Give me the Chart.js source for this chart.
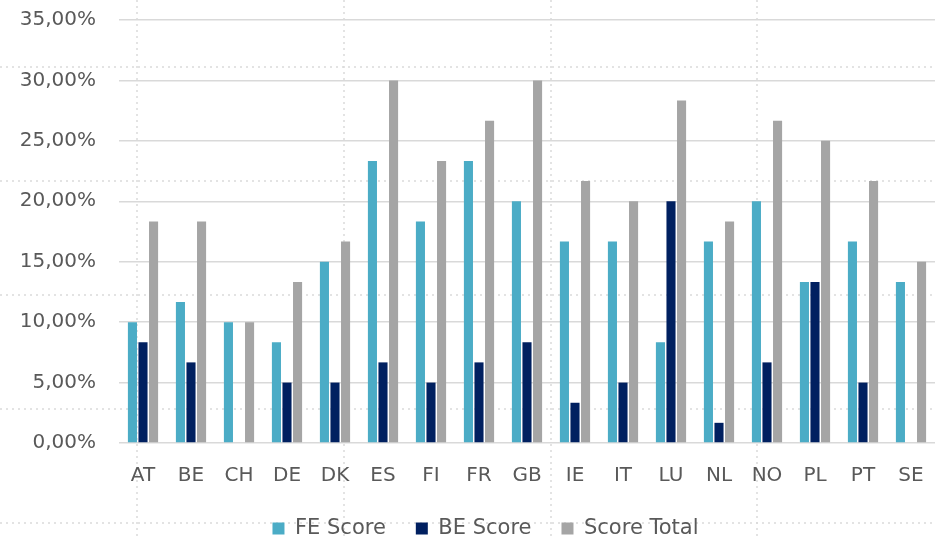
<!DOCTYPE html>
<html>
<head>
<meta charset="utf-8">
<script src="https://cdn.jsdelivr.net/npm/chart.js@4/dist/chart.umd.min.js"></script>
<style>
  html, body { margin: 0; padding: 0; background: #fff; }
  #wrap { width: 935px; height: 539px; position: relative; }
</style>
</head>
<body>
<div id="wrap"><canvas id="chart"></canvas></div>
<script>
const countries = ["AT", "BE", "CH", "DE", "DK", "ES", "FI", "FR", "GB", "IE", "IT", "LU", "NL", "NO", "PL", "PT", "SE"];
const feScore = [10, 11.67, 10, 8.33, 15, 23.33, 18.33, 23.33, 20, 16.67, 16.67, 8.33, 16.67, 20, 13.33, 16.67, 13.33];
const beScore = [8.33, 6.67, 0, 5, 5, 6.67, 5, 6.67, 8.33, 3.33, 5, 20, 1.67, 6.67, 13.33, 5, 0];
const scoreTotal = [18.33, 18.33, 10, 13.33, 16.67, 30, 23.33, 26.67, 30, 21.67, 20, 28.33, 18.33, 26.67, 25, 21.67, 15];
const yTicks = [0, 5, 10, 15, 20, 25, 30, 35];

// dotted slide guides behind the chart
const guides = {
  id: "guides",
  beforeDraw(chart) {
    const ctx = chart.ctx;
    ctx.save();
    ctx.strokeStyle = "#dadada";
    ctx.lineWidth = 1.5;
    ctx.setLineDash([2, 4]);
    [67, 181, 295, 409, 523].forEach(y => {
      ctx.beginPath();
      ctx.moveTo(0, y);
      ctx.lineTo(chart.width, y);
      ctx.stroke();
    });
    [137, 344, 551, 757].forEach(x => {
      ctx.beginPath();
      ctx.moveTo(x, 0);
      ctx.lineTo(x, chart.height);
      ctx.stroke();
    });
    ctx.restore();
  }
};

// the original legend sits a little right of centre
const legendShift = {
  id: "legendShift",
  afterLayout(chart) {
    chart.legend.left += 18;
    chart.legend.right += 18;
  }
};

Chart.defaults.font.family = "'DejaVu Sans'";
Chart.defaults.color = "#595959";

const bar = (label, data, color) => ({
  label: label,
  data: data,
  backgroundColor: color,
  borderWidth: 0,
  barPercentage: 0.86,
  categoryPercentage: 0.66
});

new Chart(document.getElementById("chart"), {
  type: "bar",
  data: {
    labels: countries,
    datasets: [
      bar("FE Score", feScore, "#4BACC6"),
      bar("BE Score", beScore, "#002060"),
      bar("Score Total", scoreTotal, "#A5A5A5")
    ]
  },
  options: {
    responsive: true,
    maintainAspectRatio: false,
    animation: false,
    layout: {
      padding: { left: 0, right: 0, top: 20, bottom: -10 }
    },
    plugins: {
      legend: {
        position: "bottom",
        labels: {
          boxWidth: 12,
          boxHeight: 12,
          padding: 30,
          font: { size: 21 },
          color: "#595959"
        }
      },
      tooltip: { enabled: false }
    },
    scales: {
      x: {
        grid: { display: false, drawTicks: false },
        border: { display: false },
        ticks: { padding: 21, font: { size: 20 } },
        afterFit: scale => {
          scale.height = 45;
          scale.paddingLeft = 0;
          scale.paddingRight = 0;
        }
      },
      y: {
        min: 0,
        max: 35,
        afterBuildTicks: scale => { scale.ticks = yTicks.map(v => ({ value: v })); },
        grid: { color: "#d9d9d9", lineWidth: 1.5, tickLength: 15, tickColor: "rgba(0,0,0,0)" },
        border: { display: false },
        ticks: {
          padding: 8,
          font: { size: 20 },
          callback: v => v.toFixed(2).replace(".", ",") + "%"
        },
        afterFit: scale => { scale.width = 119; }
      }
    }
  },
  plugins: [guides, legendShift]
});
</script>
</body>
</html>
